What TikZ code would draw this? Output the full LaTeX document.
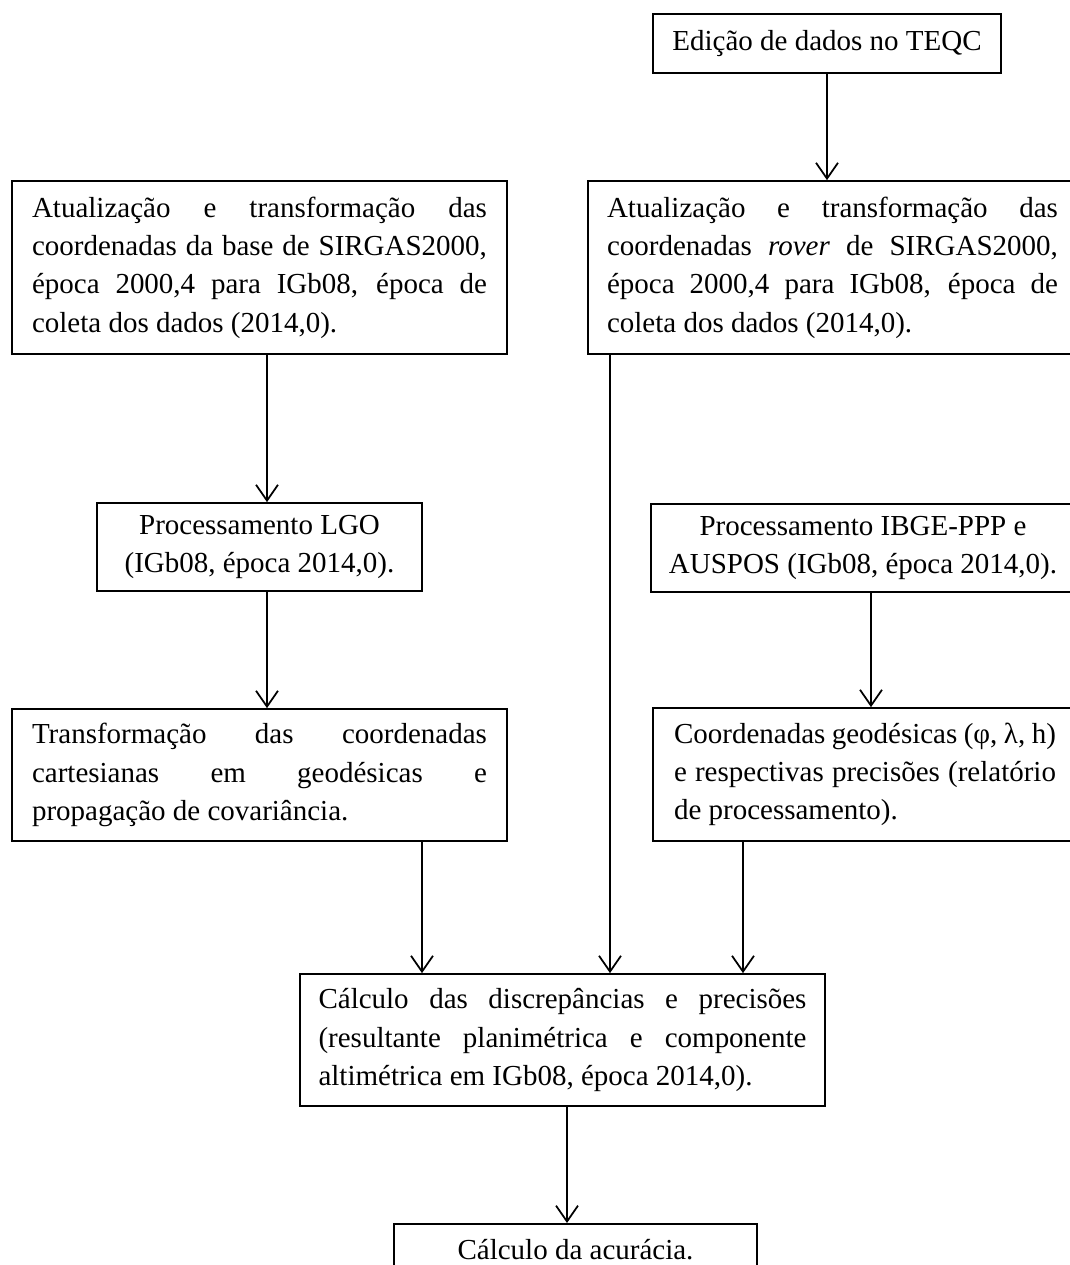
\documentclass[tikz,border=0pt]{standalone}
\usepackage{fontspec}
\setmainfont{Liberation Serif}
\usetikzlibrary{arrows.meta}
\begin{document}
\begin{tikzpicture}[x=0.02cm,y=-0.02cm,
  box/.style={draw,line width=1pt,inner xsep=0pt,inner ysep=0pt,
    font=\fontsize{16.5pt}{21.8pt}\selectfont},
  jbox/.style={box,align=justify},
  cbox/.style={box,align=center},
  arr/.style={line width=1pt,-{Straight Barb[length=9pt,width=12.5pt,line width=1pt]}}]
\useasboundingbox (0,0) rectangle (1070,1265);
\fill[white] (0,0) rectangle (1070,1265);

\node[cbox,minimum width=6.96cm,minimum height=1.18cm] (teqc) at (827,43.5)
  {Edição de dados no TEQC};

\node[jbox,text width=9.1cm,minimum width=9.9cm,minimum height=3.46cm] (base) at (259.5,267.5)
  {Atualização e transformação das\linebreak
   coordenadas da base de SIRGAS2000,\linebreak
   época 2000,4 para IGb08, época de\linebreak
   coleta dos dados (2014,0).};

\node[jbox,text width=9.02cm,minimum width=9.78cm,minimum height=3.46cm] (rover) at (832.5,267.5)
  {Atualização e transformação das\linebreak
   coordenadas \textit{rover} de SIRGAS2000,\linebreak
   época 2000,4 para IGb08, época de\linebreak
   coleta dos dados (2014,0).};

\node[cbox,minimum width=6.5cm,minimum height=1.76cm] (lgo) at (259.5,547)
  {Processamento LGO\\(IGb08, época 2014,0).};

\node[cbox,minimum width=8.48cm,minimum height=1.76cm] (ibge) at (863,548)
  {Processamento IBGE-PPP e\\AUSPOS (IGb08, época 2014,0).};

\node[jbox,text width=9.1cm,minimum width=9.9cm,minimum height=2.64cm] (transf) at (259.5,775)
  {Transformação das coordenadas\linebreak
   cartesianas em geodésicas e\linebreak
   propagação de covariância.};

\node[jbox,text width=7.64cm,minimum width=8.48cm,minimum height=2.66cm] (coord) at (865,774.5)
  {Coordenadas geodésicas (φ, λ, h)\linebreak
   e respectivas precisões (relatório\linebreak
   de processamento).};

\node[jbox,text width=9.76cm,minimum width=10.5cm,minimum height=2.64cm] (calc) at (562.5,1040)
  {Cálculo das discrepâncias e precisões\linebreak
   (resultante planimétrica e componente\linebreak
   altimétrica em IGb08, época 2014,0).};

\node[cbox,anchor=north,minimum width=7.26cm,inner ysep=4pt,text height=16pt,text depth=18pt] (acur) at (575.5,1223)
  {Cálculo da acurácia.};

\coordinate (xa) at (267,0);
\coordinate (xb) at (610,0);
\coordinate (xc) at (871,0);
\coordinate (xd) at (422,0);
\coordinate (xe) at (743,0);
\coordinate (xf) at (567,0);
\coordinate (xg) at (827,0);

\draw[arr] (teqc.south -| xg) -- (rover.north -| xg);
\draw[arr] (base.south -| xa) -- (lgo.north -| xa);
\draw[arr] (lgo.south -| xa) -- (transf.north -| xa);
\draw[arr] (ibge.south -| xc) -- (coord.north -| xc);
\draw[arr] (transf.south -| xd) -- (calc.north -| xd);
\draw[arr] (rover.south -| xb) -- (calc.north -| xb);
\draw[arr] (coord.south -| xe) -- (calc.north -| xe);
\draw[arr] (calc.south -| xf) -- (acur.north -| xf);
\end{tikzpicture}
\end{document}
